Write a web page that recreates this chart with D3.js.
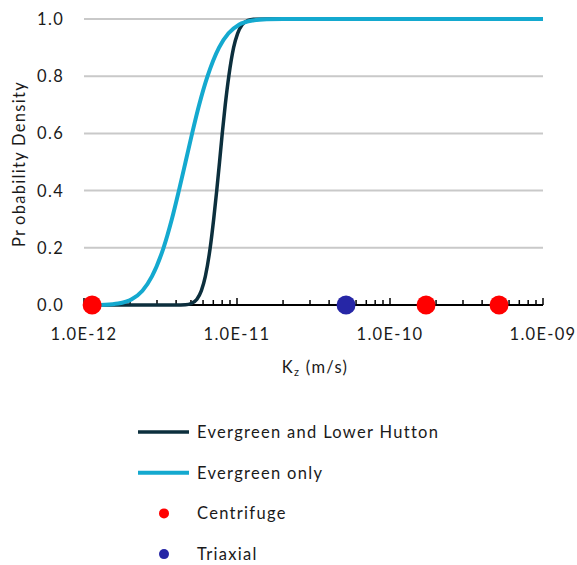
<!DOCTYPE html>
<html>
<head>
<meta charset="utf-8">
<script src="https://cdn.jsdelivr.net/npm/d3@7"></script>
<style>
  html, body { margin: 0; padding: 0; background: #fff; }
  svg { display: block; font-family: Lato, "Open Sans", sans-serif; }
  text { letter-spacing: 1.3px; }
</style>
</head>
<body>
<svg id="chart" width="577" height="565"></svg>
<script>
// Cumulative probability of vertical hydraulic conductivity Kz (m/s)
const evergreenLowerHuttonK = [1.13e-12, 4.0e-12, 4.60e-12, 5.01e-12, 5.47e-12, 5.85e-12, 6.21e-12, 6.68e-12, 7.04e-12, 7.37e-12, 7.69e-12, 8.01e-12, 8.38e-12, 8.84e-12, 9.50e-12, 1.01e-11, 1.08e-11, 1.18e-11, 1.28e-11, 1.6e-11, 1e-9];
const evergreenLowerHuttonP = [0.0, 0.0, 0.001, 0.005, 0.02, 0.05, 0.1, 0.2, 0.3, 0.4, 0.5, 0.6, 0.7, 0.8, 0.9, 0.95, 0.98, 0.995, 0.999, 1.0, 1.0];

const evergreenOnlyK = [1.13e-12, 1.37e-12, 1.67e-12, 2.05e-12, 2.41e-12, 2.78e-12, 3.31e-12, 3.75e-12, 4.17e-12, 4.61e-12, 5.09e-12, 5.66e-12, 6.42e-12, 7.63e-12, 8.80e-12, 1.03e-11, 1.27e-11, 1.56e-11, 2.0e-11, 1e-9];
const evergreenOnlyP = [0.0, 0.001, 0.005, 0.02, 0.05, 0.1, 0.2, 0.3, 0.4, 0.5, 0.6, 0.7, 0.8, 0.9, 0.95, 0.98, 0.995, 0.999, 1.0, 1.0];

// Laboratory measurements
const centrifugeK = [1.13e-12, 1.72e-10, 5.16e-10];
const triaxialK = [5.16e-11];

const xTicks = [1e-12, 1e-11, 1e-10, 1e-9];
const xTickLabels = ["1.0E-12", "1.0E-11", "1.0E-10", "1.0E-09"];
const yTicks = [0, 0.2, 0.4, 0.6, 0.8, 1.0];

const FS = 16.5;
const svg = d3.select("#chart");
const x = d3.scaleLog().domain([1e-12, 1e-9]).range([84, 543]);
const y = d3.scaleLinear().domain([0, 1]).range([305, 19]);

// horizontal gridlines
svg.append("g").selectAll("line")
  .data(yTicks.filter(d => d > 0))
  .join("line")
  .attr("x1", x.range()[0]).attr("x2", x.range()[1])
  .attr("y1", d => y(d)).attr("y2", d => y(d))
  .attr("stroke", "#c9c9c9").attr("stroke-width", 2);

// y tick labels
svg.append("g").selectAll("text")
  .data(yTicks)
  .join("text")
  .attr("x", 64).attr("y", d => y(d))
  .attr("dy", "0.36em")
  .attr("text-anchor", "end")
  .attr("font-size", FS).attr("fill", "#1a1a1a")
  .text(d => d3.format(".1f")(d));

// x axis with minor ticks pointing up
const minor = [];
for (let e = -12; e < -9; e++) for (let m = 2; m <= 9; m++) minor.push(m * Math.pow(10, e));
const xa = svg.append("g");
xa.append("line")
  .attr("x1", x.range()[0]).attr("x2", x.range()[1])
  .attr("y1", y(0)).attr("y2", y(0))
  .attr("stroke", "#000").attr("stroke-width", 2);
xa.selectAll("line.minor").data(minor).join("line").attr("class", "minor")
  .attr("x1", d => x(d)).attr("x2", d => x(d))
  .attr("y1", y(0)).attr("y2", y(0) - 5)
  .attr("stroke", "#000").attr("stroke-width", 1.5);
xa.selectAll("line.major").data(xTicks).join("line").attr("class", "major")
  .attr("x1", d => x(d)).attr("x2", d => x(d))
  .attr("y1", y(0)).attr("y2", y(0) - 7)
  .attr("stroke", "#000").attr("stroke-width", 1.5);
xa.selectAll("text").data(xTicks).join("text")
  .attr("x", d => x(d)).attr("y", 340)
  .attr("text-anchor", "middle")
  .attr("font-size", FS).attr("fill", "#1a1a1a")
  .text((d, i) => xTickLabels[i]);

// axis titles
const xt = svg.append("text")
  .attr("x", 315).attr("y", 373)
  .attr("text-anchor", "middle")
  .attr("font-size", FS).attr("fill", "#1a1a1a");
xt.append("tspan").text("K");
xt.append("tspan").attr("font-size", 11).attr("dy", 3).text("z");
xt.append("tspan").attr("dy", -3).text(" (m/s)");

const yt = svg.append("text")
  .attr("transform", "translate(25,164) rotate(-90)")
  .attr("text-anchor", "middle")
  .attr("font-size", FS).attr("fill", "#1a1a1a");
yt.append("tspan").text("Pr");
yt.append("tspan").attr("dx", 4).text("obability Density");

// curves
const line = d3.line().x(d => x(d[0])).y(d => y(d[1])).curve(d3.curveMonotoneX);
svg.append("path")
  .datum(d3.zip(evergreenLowerHuttonK, evergreenLowerHuttonP))
  .attr("d", line).attr("fill", "none")
  .attr("stroke", "#0c2f3d").attr("stroke-width", 3.5);
svg.append("path")
  .datum(d3.zip(evergreenOnlyK, evergreenOnlyP))
  .attr("d", line).attr("fill", "none")
  .attr("stroke", "#14a9cf").attr("stroke-width", 4);

// measurement points
svg.append("g").selectAll("circle").data(triaxialK).join("circle")
  .attr("cx", d => x(d)).attr("cy", y(0)).attr("r", 9.5).attr("fill", "#2626a6");
svg.append("g").selectAll("circle").data(centrifugeK).join("circle")
  .attr("cx", d => x(d)).attr("cy", y(0)).attr("r", 9.5).attr("fill", "#ff0000");

// legend
const legendItems = [
  { label: "Evergreen and Lower Hutton", type: "line", color: "#0c2f3d", w: 3.5 },
  { label: "Evergreen only", type: "line", color: "#14a9cf", w: 4 },
  { label: "Centrifuge", type: "dot", color: "#ff0000" },
  { label: "Triaxial", type: "dot", color: "#2626a6" }
];
const lg = svg.append("g").selectAll("g").data(legendItems).join("g")
  .attr("transform", (d, i) => `translate(0,${432 + i * 40.7})`);
lg.filter(d => d.type === "line").append("line")
  .attr("x1", 138).attr("x2", 189).attr("y1", 0).attr("y2", 0)
  .attr("stroke", d => d.color).attr("stroke-width", d => d.w);
lg.filter(d => d.type === "dot").append("circle")
  .attr("cx", 164).attr("cy", 0).attr("r", 5).attr("fill", d => d.color);
lg.append("text")
  .attr("x", 197).attr("y", 0).attr("dy", "0.36em")
  .attr("font-size", FS).attr("fill", "#1a1a1a")
  .text(d => d.label);
</script>
</body>
</html>
